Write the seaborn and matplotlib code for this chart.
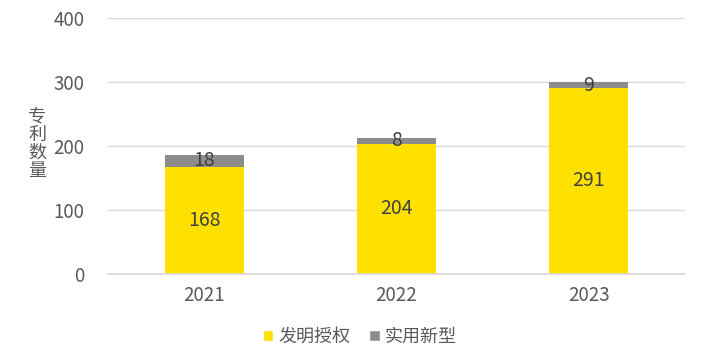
import numpy as np
import pandas as pd
import matplotlib
matplotlib.use("Agg")
import matplotlib.pyplot as plt
import seaborn as sns
from matplotlib.patches import Patch

# data
years = ["2021", "2022", "2023"]
invention = [168, 204, 291]
utility = [18, 8, 9]
series_names = ["发明授权", "实用新型"]

sns.set_theme(style="white")
plt.rcParams['font.family'] = ['Noto Sans CJK SC', 'DejaVu Sans']

yellow = "#FFE100"
gray = "#8C8C8C"
text_color = "#595959"

df = pd.DataFrame({"year": years, "invention": invention, "utility": utility})
df["total"] = df["invention"] + df["utility"]

fig = plt.figure(figsize=(7.03, 3.63), dpi=100)
ax = fig.add_axes([0.154, 0.245, 0.82, 0.705])

# total first in gray, then invention on top in yellow -> stacked look
sns.barplot(data=df, x="year", y="total", color=gray, width=0.41, saturation=1,
            linewidth=0, ax=ax)
sns.barplot(data=df, x="year", y="invention", color=yellow, width=0.41, saturation=1,
            linewidth=0, ax=ax)

for i, row in df.iterrows():
    ax.text(i, row["invention"] / 2, str(row["invention"]), ha="center", va="center",
            fontsize=14, color="#404040")
    ax.text(i, row["invention"] + row["utility"] / 2, str(row["utility"]), ha="center", va="center",
            fontsize=14, color="#404040")

ax.set_ylim(0, 400)
ax.set_yticks([0, 100, 200, 300, 400])
ax.set_xlim(-0.5, 2.5)
ax.yaxis.grid(True, color="#D9D9D9", linewidth=1)
ax.set_axisbelow(True)
for s in ["top", "right", "left"]:
    ax.spines[s].set_visible(False)
ax.spines["bottom"].set_color("#D9D9D9")
ax.tick_params(axis="both", labelsize=13.5, colors=text_color, length=0)
ax.tick_params(axis="y", pad=17)
ax.tick_params(axis="x", pad=8)
ax.set_xlabel("")
ax.set_ylabel("专\n利\n数\n量", rotation=0, fontsize=13, color=text_color,
              va="center", ha="center", linespacing=1.0)
ax.yaxis.set_label_coords(-0.123, 0.51)

handles = [Patch(facecolor=yellow, label=series_names[0]),
           Patch(facecolor=gray, label=series_names[1])]
fig.legend(handles=handles, loc="center", bbox_to_anchor=(0.512, 0.072), ncol=2, frameon=False,
           fontsize=13, labelcolor=text_color, handlelength=0.6, handleheight=0.6,
           handletextpad=0.3, columnspacing=1.0)

fig.savefig("out.png", dpi=100)
